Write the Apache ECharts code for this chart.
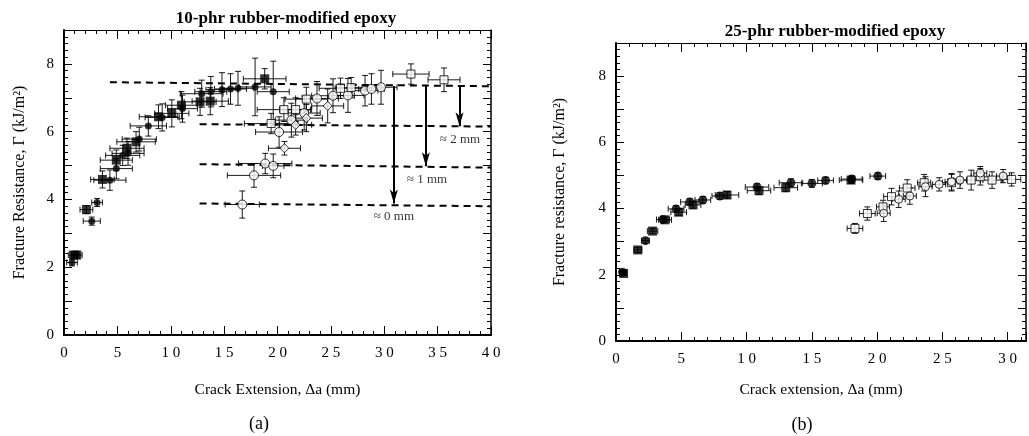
<!DOCTYPE html>
<html><head><meta charset="utf-8">
<script src="https://cdn.jsdelivr.net/npm/echarts@6/dist/echarts.min.js"></script>
<style>html,body{margin:0;padding:0;background:#fff}#c{width:1029px;height:436px}</style>
</head><body><div id="c"></div>
<script>
// ---- data: [x, y, xErr, yErr] ----
const leftFilledSquares = [[0.9,2.36,0.5,0.1],[1.2,2.36,0.5,0.1],[2.1,3.70,0.6,0.12],[3.6,4.59,1.1,0.25],[4.9,5.16,1.5,0.3],[5.9,5.51,1.6,0.3],[6.75,5.70,1.8,0.3],[8.85,6.44,1.8,0.35],[10.1,6.54,1.6,0.4],[11.0,6.78,1.5,0.4],[12.75,6.88,1.5,0.4],[13.7,6.90,1.7,0.4],[18.8,7.56,2.0,0.3]];
const leftFilledCircles = [[0.75,2.14,0.5,0.1],[2.6,3.36,0.8,0.12],[3.1,3.91,0.5,0.12],[4.3,4.57,1.5,0.3],[4.9,4.91,1.5,0.3],[5.5,5.30,1.6,0.3],[6.0,5.36,1.5,0.35],[7.05,5.78,1.6,0.35],[7.9,6.17,1.7,0.3],[9.2,6.42,1.6,0.4],[11.1,6.68,1.4,0.4],[12.9,7.12,2.0,0.4],[13.75,7.18,1.5,0.45],[14.8,7.24,1.5,0.5],[15.6,7.26,1.5,0.45],[16.3,7.28,1.5,0.5],[17.9,7.32,1.5,0.85],[19.6,7.18,1.5,0.9]];
const leftOpenCircles = [[16.7,3.85,1.6,0.4],[17.8,4.71,2.5,0.35],[18.85,5.06,2.5,0.3],[19.6,4.99,1.0,0.35],[20.15,5.99,2.2,0.45],[21.3,6.34,1.5,0.5],[22.5,6.55,1.5,0.5],[23.7,6.98,2.0,0.5],[25.2,7.06,2.0,0.5],[26.6,7.07,1.5,0.5],[28.2,7.21,1.2,0.45],[28.8,7.26,1.2,0.45],[29.7,7.31,1.5,0.5]];
const leftOpenDiamonds = [[20.65,5.51,1.5,0.2],[21.7,6.2,1.5,0.3],[22.7,6.4,1.5,0.4],[24.7,6.76,1.5,0.5]];
const leftOpenSquares = [[19.4,6.24,2.5,0.3],[20.6,6.65,2.5,0.35],[21.7,6.65,1.5,0.35],[22.7,6.96,2.0,0.35],[25.9,7.28,2.0,0.3],[26.9,7.30,1.5,0.3],[32.5,7.70,1.7,0.3],[35.6,7.53,1.5,0.35]];

const rightFilledSquares = [[0.58,2.04,0.2,0.05],[1.67,2.75,0.3,0.08],[2.8,3.32,0.4,0.08],[3.75,3.66,0.5,0.08],[4.8,3.89,0.6,0.1],[5.9,4.11,0.6,0.1],[8.5,4.41,0.9,0.1],[10.95,4.54,0.9,0.12],[13.0,4.63,0.9,0.12],[18.0,4.86,0.9,0.1]];
const rightFilledCircles = [[0.5,2.08,0.2,0.05],[2.25,3.03,0.3,0.08],[3.6,3.67,0.5,0.08],[4.6,3.99,0.6,0.1],[5.65,4.2,0.7,0.1],[6.65,4.26,0.6,0.1],[7.95,4.38,0.6,0.1],[10.8,4.65,0.9,0.1],[13.4,4.78,0.9,0.12],[15.0,4.76,0.8,0.12],[16.05,4.85,0.6,0.1],[18.05,4.89,0.8,0.1],[20.05,4.98,0.6,0.1]];
const rightOpenSquares = [[18.3,3.40,0.6,0.15],[19.25,3.85,0.6,0.2],[20.45,4.05,0.5,0.2],[21.1,4.36,0.6,0.25],[22.3,4.62,0.6,0.25],[23.6,4.78,0.5,0.25],[25.7,4.78,0.7,0.25],[27.2,4.86,0.7,0.3],[27.9,4.96,0.7,0.25],[28.8,4.86,0.7,0.25],[30.3,4.88,0.7,0.2]];
const rightOpenCircles = [[20.5,3.86,0.5,0.25],[21.65,4.28,0.5,0.25],[22.5,4.38,0.5,0.25],[23.7,4.66,0.5,0.3],[24.75,4.73,0.5,0.2],[25.7,4.81,0.5,0.25],[26.35,4.86,0.5,0.25],[27.9,5.07,0.5,0.2],[29.65,4.98,0.5,0.2]];

// dashed plateau lines: [x1, y1, x2, y2]
const dashLines = [[4.3,7.46,40,7.34],[12.7,6.22,40,6.15],[12.7,5.04,40,4.94],[12.7,3.88,40,3.80]];
// arrows: [x, yFrom, yTo]
const arrows = [[30.9,7.35,3.88],[33.9,7.35,4.98],[37.05,7.35,6.16]];
// annotations: [x, y, text]
const annotations = [[37.1,5.78,'≈ 2 mm'],[34.0,4.59,'≈ 1 mm'],[30.9,3.50,'≈ 0 mm']];

const titles = ['10-phr rubber-modified epoxy','25-phr rubber-modified epoxy'];
const xNames = ['Crack Extension, Δa (mm)','Crack extension, Δa (mm)'];
const yNames = ['Fracture Resistance, Γ (kJ/m²)','Fracture resistance, Γ (kJ/m²)'];
const panelLabels = ['(a)','(b)'];

const SERIF = '"Liberation Serif","DejaVu Serif",serif';

function errRender(params, api) {
  const x = api.value(0), y = api.value(1), ex = api.value(2), ey = api.value(3);
  const a = api.coord([x - ex, y]), b = api.coord([x + ex, y]);
  const c = api.coord([x, y - ey]), d = api.coord([x, y + ey]);
  const k = 3, st = {stroke:'#000', lineWidth:0.9};
  const L = (x1,y1,x2,y2) => ({type:'line', shape:{x1,y1,x2,y2}, style:st});
  return {type:'group', children:[
    L(a[0],a[1],b[0],b[1]), L(a[0],a[1]-k,a[0],a[1]+k), L(b[0],b[1]-k,b[0],b[1]+k),
    L(c[0],c[1],d[0],d[1]), L(c[0]-k,c[1],c[0]+k,c[1]), L(d[0]-k,d[1],d[0]+k,d[1])
  ]};
}

function pointSeries(data, gi, symbol, size, filled) {
  return [
    {type:'custom', xAxisIndex:gi*2, yAxisIndex:gi*2, data, renderItem:errRender, encode:{x:0,y:1}, silent:true, z:2},
    {type:'scatter', xAxisIndex:gi*2, yAxisIndex:gi*2, data, symbol, symbolSize:size, silent:true, z:3,
     itemStyle:{color: filled ? '#000' : '#fff', borderColor:'#000', borderWidth: filled ? 0 : 1}}
  ];
}

const series = [];
series.push(...pointSeries(leftFilledSquares,0,'rect',9,true));
series.push(...pointSeries(leftFilledCircles,0,'circle',7,true));
series.push(...pointSeries(leftOpenCircles,0,'circle',9,false));
series.push(...pointSeries(leftOpenDiamonds,0,'diamond',9,false));
series.push(...pointSeries(leftOpenSquares,0,'rect',8,false));
series.push(...pointSeries(rightFilledSquares,1,'rect',9,true));
series.push(...pointSeries(rightFilledCircles,1,'circle',9,true));
series.push(...pointSeries(rightOpenSquares,1,'rect',8,false));
series.push(...pointSeries(rightOpenCircles,1,'circle',8,false));

dashLines.forEach(d => series.push({type:'line', xAxisIndex:0, yAxisIndex:0, data:[[d[0],d[1]],[d[2],d[3]]],
  symbol:'none', silent:true, z:1, lineStyle:{color:'#000', width:2, type:[7,5]}}));

series.push({type:'line', xAxisIndex:0, yAxisIndex:0, data:[], silent:true,
  markLine:{silent:true, symbol:['none','arrow'], symbolSize:[6,14], label:{show:false},
    lineStyle:{color:'#000', width:2, type:'solid'}, emphasis:{disabled:true},
    data: arrows.map(a => [{coord:[a[0],a[1]]},{coord:[a[0],a[2]]}])}});

series.push({type:'scatter', xAxisIndex:0, yAxisIndex:0, symbolSize:0, silent:true,
  data: annotations.map(a => ({value:[a[0],a[1]], name:a[2]})),
  label:{show:true, position:'inside', formatter:p=>p.name, color:'#000', fontFamily:SERIF, fontSize:13}});

const grids = [
  {left:64, right:538, top:30, bottom:101},
  {left:616, right:0, top:43, bottom:95}
];
const xRanges = [[0,40],[0,31.4]];

function xAxes(gi) {
  const base = {type:'value', gridIndex:gi, min:xRanges[gi][0], max:xRanges[gi][1], interval:5,
    splitLine:{show:false}, minorTick:{show:true, splitNumber:5, length:4, lineStyle:{color:'#000'}},
    axisTick:{inside:true, length:9, lineStyle:{color:'#000'}}};
  return [
    Object.assign({}, base, {position:'bottom', axisLine:{onZero:false, lineStyle:{color:'#000', width:2}},
      axisLabel:{color:'#000', fontFamily:SERIF, fontSize:15, margin:11,
        formatter: v => (v % 5 === 0) ? String(v).split('').join(' ') : ''},
      name:xNames[gi], nameLocation:'middle', nameGap: gi===0 ? 47 : 41,
      nameTextStyle:{color:'#000', fontFamily:SERIF, fontSize:15.5}}),
    Object.assign({}, base, {position:'top', axisLine:{onZero:false, lineStyle:{color:'#000', width:1.2}}, axisLabel:{show:false}})
  ];
}
function yAxes(gi) {
  const base = {type:'value', gridIndex:gi, min:0, max:9, interval:1,
    splitLine:{show:false}, minorTick:{show:true, splitNumber:5, length:4, lineStyle:{color:'#000'}},
    axisTick:{inside:true, length:8, lineStyle:{color:'#000'}}};
  return [
    Object.assign({}, base, {position:'left', axisLine:{onZero:false, lineStyle:{color:'#000', width:2}},
      axisLabel:{color:'#000', fontFamily:SERIF, fontSize:15, margin:10,
        formatter: v => (v % 2 === 0 && v < 9) ? String(v) : ''},
      name:yNames[gi], nameLocation:'middle', nameGap: gi===0 ? 36 : 48,
      nameTextStyle:{color:'#000', fontFamily:SERIF, fontSize:16}}),
    Object.assign({}, base, {position:'right', axisLine:{onZero:false, lineStyle:{color:'#000', width:1.5}}, axisLabel:{show:false}})
  ];
}

const option = {
  animation:false,
  backgroundColor:'#fff',
  title: [
    {text:titles[0], left:281, top:5, textAlign:'center', textStyle:{fontFamily:SERIF, fontWeight:'bold', fontSize:17, color:'#000'}},
    {text:titles[1], left:830, top:18, textAlign:'center', textStyle:{fontFamily:SERIF, fontWeight:'bold', fontSize:17, color:'#000'}},
    {text:panelLabels[0], left:254, top:410, textAlign:'center', textStyle:{fontFamily:SERIF, fontWeight:'normal', fontSize:18, color:'#000'}},
    {text:panelLabels[1], left:797, top:411, textAlign:'center', textStyle:{fontFamily:SERIF, fontWeight:'normal', fontSize:18, color:'#000'}}
  ],
  grid: grids,
  xAxis: [...xAxes(0), ...xAxes(1)],
  yAxis: [...yAxes(0), ...yAxes(1)],
  series
};
const chart = echarts.init(document.getElementById('c'), null, {renderer:'canvas'});
chart.setOption(option);
</script></body></html>
